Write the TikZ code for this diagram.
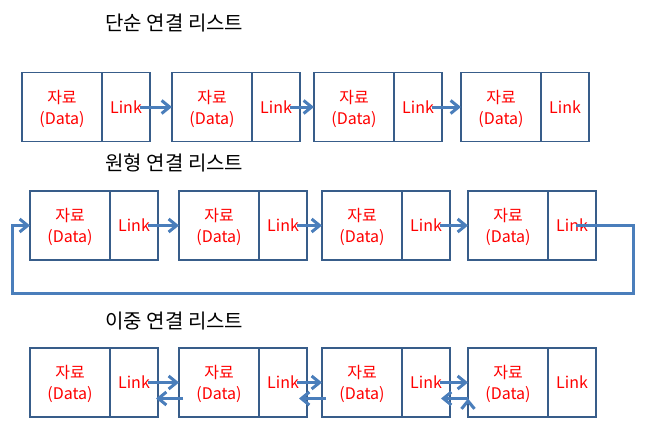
\documentclass[tikz,border=0pt]{standalone}
\usepackage{fontspec}
\setmainfont{Noto Sans CJK KR}
\usetikzlibrary{positioning,arrows.meta}
\definecolor{boxblue}{HTML}{385D8A}
\definecolor{arrowblue}{HTML}{4A7EBB}

\begin{document}
\begin{tikzpicture}[x=1pt,y=-1pt,
	data node/.style={draw=boxblue,line width=1.8pt,minimum width=80pt,minimum height=69pt,
		inner sep=0pt,outer sep=0pt,text=red,align=center,anchor=west,text depth=-1pt,
		font=\fontsize{16}{21}\selectfont},
	link node/.style={draw=boxblue,line width=1.8pt,minimum width=48pt,minimum height=69pt,
		inner sep=0pt,outer sep=0pt,text=red,right=0pt of #1,
		font=\fontsize{16}{21}\selectfont},
	title/.style={anchor=west,font=\fontsize{20}{24}\selectfont},
	arrow/.style={draw=arrowblue,line width=3pt,-{Straight Barb[length=8pt,width=13pt]}}]

	\useasboundingbox (0,0) rectangle (650,428);

	% single
	\node[title] (t1) at (102,23) {단순 연결 리스트};
	\node[data node] (a1) at (22,107) {자료\\(Data)};
	\node[link node=a1] (al1) {Link};
	\node[data node] (a2) at (172,107) {자료\\(Data)};
	\node[link node=a2] (al2) {Link};
	\node[data node] (a3) at (314,107) {자료\\(Data)};
	\node[link node=a3] (al3) {Link};
	\node[data node] (a4) at (461,107) {자료\\(Data)};
	\node[link node=a4] (al4) {Link};

	% circular
	\node[title] (t2) at (102,163) {원형 연결 리스트};
	\node[data node] (b1) at (30,225.5) {자료\\(Data)};
	\node[link node=b1] (bl1) {Link};
	\node[data node] (b2) at (179,225.5) {자료\\(Data)};
	\node[link node=b2] (bl2) {Link};
	\node[data node] (b3) at (322,225.5) {자료\\(Data)};
	\node[link node=b3] (bl3) {Link};
	\node[data node] (b4) at (468,225.5) {자료\\(Data)};
	\node[link node=b4] (bl4) {Link};
	\coordinate (loopR) at (633,293);
	\coordinate (loopL) at (12,293);

	% double
	\node[title] (t3) at (102,321) {이중 연결 리스트};
	\node[data node] (c1) at (30,382.5) {자료\\(Data)};
	\node[link node=c1] (cl1) {Link};
	\node[data node] (c2) at (179,382.5) {자료\\(Data)};
	\node[link node=c2] (cl2) {Link};
	\node[data node] (c3) at (322,382.5) {자료\\(Data)};
	\node[link node=c3] (cl3) {Link};
	\node[data node] (c4) at (468,382.5) {자료\\(Data)};
	\node[link node=c4] (cl4) {Link};

	\path[arrow]
	([xshift=14pt]al1.center) edge (a2.west)
	([xshift=14pt]al2.center) edge (a3.west)
	([xshift=14pt]al3.center) edge (a4.west)
	([xshift=14pt]bl1.center) edge (b2.west)
	([xshift=14pt]bl2.center) edge (b3.west)
	([xshift=14pt]bl3.center) edge (b4.west)
	([xshift=14pt]cl1.center) edge (c2.west)
	([xshift=14pt]cl2.center) edge (c3.west)
	([xshift=14pt]cl3.center) edge (c4.west)
	([shift={(4pt,-16pt)}]c2.west) edge ([shift={(-2pt,-16pt)}]cl1.east)
	([shift={(4pt,-16pt)}]c3.west) edge ([shift={(-8pt,-16pt)}]cl2.east)
	([shift={(0pt,-16pt)}]c4.west) edge ([shift={(-9pt,-16pt)}]cl3.east)
	;
	\draw[arrow] ([xshift=4pt]bl4.center) -| (loopR) -- (loopL) |- (b1.west);
\end{tikzpicture}
\end{document}
